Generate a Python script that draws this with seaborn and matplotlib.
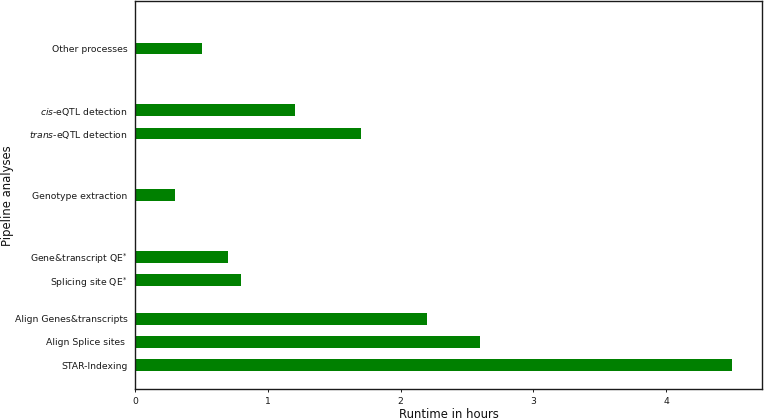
import matplotlib

matplotlib.use("Agg")
import matplotlib.pyplot as plt
import pandas as pd
import seaborn as sns

# pipeline steps, bottom to top
steps = [
    "STAR-Indexing",
    "Align Splice sites ",
    "Align Genes&transcripts",
    r"Splicing site QE$^{*}$",
    r"Gene&transcript QE$^{*}$",
    "Genotype extraction",
    r"$\mathit{trans}$-eQTL detection",
    r"$\mathit{cis}$-eQTL detection",
    "Other processes",
]
positions = [0, 1, 2, 3.65, 4.65, 7.3, 9.95, 10.95, 13.6]
runtime_hours = [4.5, 2.6, 2.2, 0.8, 0.7, 0.3, 1.7, 1.2, 0.5]

sns.set_theme(style="ticks")
plt.rcParams["font.family"] = ["DejaVu Sans"]
plt.rcParams["mathtext.fontset"] = "dejavusans"


def main() -> None:
    df = pd.DataFrame({"step": steps, "pos": positions, "runtime": runtime_hours})

    fig = plt.figure(figsize=(7.64, 4.2), dpi=100)
    ax = fig.add_axes([0.1771, 0.0731, 0.8207, 0.9238])
    sns.barplot(
        data=df, x="runtime", y="pos", orient="h", native_scale=True,
        color="green", saturation=1, width=0.5, linewidth=0, errorbar=None, ax=ax,
    )
    ax.set_ylim(-1.03, 15.62)
    ax.set_yticks(df["pos"], labels=df["step"])
    ax.set_xticks([0, 1, 2, 3, 4])

    for side in ["top", "right", "left", "bottom"]:
        ax.spines[side].set_visible(True)
        ax.spines[side].set_color("#1a1a1a")
        ax.spines[side].set_linewidth(1.0)

    ax.tick_params(axis="y", length=0, pad=5.5, labelsize=6.7, colors="#1a1a1a")
    ax.tick_params(axis="x", length=2.3, width=0.7, pad=3.0, labelsize=6.7, colors="#1a1a1a")
    ax.set_xlabel("Runtime in hours", fontsize=8.4, labelpad=1.5, color="#111111")
    ax.set_ylabel("Pipeline analyses", fontsize=8.4, labelpad=0.8, color="#111111")

    fig.savefig("out.png", dpi=100)
    plt.close(fig)


if __name__ == "__main__":
    main()
